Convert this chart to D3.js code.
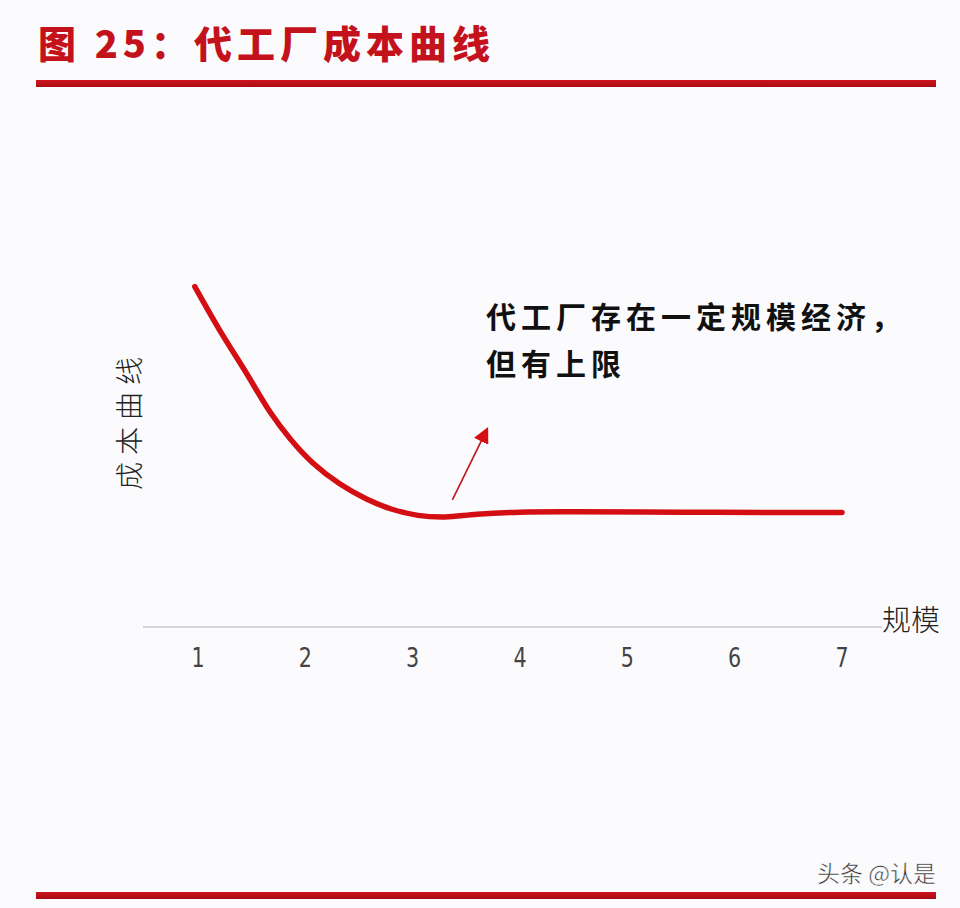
<!DOCTYPE html>
<html><head><meta charset="utf-8">
<script src="https://cdn.jsdelivr.net/npm/d3@7/dist/d3.min.js"></script>
<style>
html,body{margin:0;padding:0;background:#fbfbfd;}
svg{display:block;}
</style></head>
<body>
<script>
// ---- data ----
const title = "图 25：代工厂成本曲线";
const xTicks = [1, 2, 3, 4, 5, 6, 7];
const xLabel = "规模";
const yLabel = "成本曲线";
const annotationLines = ["代工厂存在一定规模经济，", "但有上限"];
const watermark = "头条 @认是";
// cost curve (x = scale, y = cost index 0-100)
const curveX = [0.97, 1.2, 1.45, 1.67, 1.86, 2.07, 2.32, 2.57, 2.8, 3.05, 3.3, 3.6, 4.0, 4.5, 5.5, 6.5, 7.0];
const curveY = [85.1, 74.3, 63.5, 53.8, 47.0, 41.0, 35.8, 32.0, 29.5, 27.9, 27.5, 28.2, 28.7, 28.8, 28.7, 28.6, 28.6];
// annotation arrow (data coords)
const arrowFrom = [3.37, 31.8];
const arrowTo = [3.69, 49.3];

const W = 960, H = 908;
const svg = d3.select("body").append("svg").attr("width", W).attr("height", H);

const red = "#c4121c";
const x = d3.scaleLinear().domain([1, 7]).range([198, 842]);
const y = d3.scaleLinear().domain([0, 100]).range([627, 227]);

// title
svg.append("text").attr("x", 38).attr("y", 58)
  .attr("font-family", "'Noto Sans CJK SC'").attr("font-weight", 900)
  .attr("font-size", 38).attr("letter-spacing", 5).attr("fill", red)
  .text(title);

// header / footer bars
const defs = svg.append("defs");
const grad = defs.append("linearGradient").attr("id", "bar").attr("x1", 0).attr("x2", 0).attr("y1", 0).attr("y2", 1);
grad.append("stop").attr("offset", 0).attr("stop-color", "#d0141e");
grad.append("stop").attr("offset", 1).attr("stop-color", "#a80c14");
svg.append("rect").attr("x", 36).attr("y", 80).attr("width", 900).attr("height", 7).attr("fill", "url(#bar)");
svg.append("rect").attr("x", 36).attr("y", 892).attr("width", 900).attr("height", 7).attr("fill", "url(#bar)");

// x axis
const xAxis = d3.axisBottom(x).tickValues(xTicks).tickSize(0).tickPadding(21).tickFormat(d3.format("d"));
const gx = svg.append("g").attr("transform", `translate(0,${y(0)})`).call(xAxis);
gx.select(".domain").remove();
gx.selectAll("text").attr("font-family", "'DejaVu Sans Condensed','DejaVu Sans'")
  .attr("font-size", 27).attr("font-weight", 300).attr("fill", "#444")
  .attr("transform", "scale(0.85,1)")
  .attr("x", function() { return 0; });
gx.selectAll(".tick").each(function(d) {
  d3.select(this).attr("transform", `translate(${x(d)},0)`);
});
svg.append("line").attr("x1", 143).attr("x2", 882).attr("y1", y(0)).attr("y2", y(0))
  .attr("stroke", "#c8c8cc").attr("stroke-width", 1.5);

// axis labels
svg.append("text").attr("x", 882).attr("y", 631)
  .attr("font-family", "'Noto Sans CJK SC'").attr("font-weight", 300).attr("font-size", 29).attr("fill", "#222")
  .text(xLabel);
svg.append("text").attr("transform", "translate(140,420) rotate(-90)").attr("text-anchor", "middle")
  .attr("font-family", "'Noto Sans CJK SC'").attr("font-weight", 300).attr("font-size", 28)
  .attr("letter-spacing", 7).attr("fill", "#222")
  .text(yLabel);

// curve
const pts = curveX.map((d, i) => [d, curveY[i]]);
const line = d3.line().x(d => x(d[0])).y(d => y(d[1])).curve(d3.curveCatmullRom.alpha(0.5));
svg.append("path").attr("d", line(pts)).attr("fill", "none")
  .attr("stroke", "#d40f14").attr("stroke-width", 5.5).attr("stroke-linecap", "round");

// arrow
defs.append("marker").attr("id", "ah").attr("viewBox", "0 0 10 10")
  .attr("refX", 8).attr("refY", 5).attr("markerWidth", 16).attr("markerHeight", 16)
  .attr("markerUnits", "userSpaceOnUse").attr("orient", "auto")
  .append("path").attr("d", "M0,0 L10,5 L0,10 Z").attr("fill", "#d40f14");
svg.append("line").attr("x1", x(arrowFrom[0])).attr("y1", y(arrowFrom[1]))
  .attr("x2", x(arrowTo[0])).attr("y2", y(arrowTo[1]))
  .attr("stroke", "#c4121c").attr("stroke-width", 1.6).attr("marker-end", "url(#ah)");

// annotation text
annotationLines.forEach((t, i) => {
  svg.append("text").attr("x", 486).attr("y", 328 + i * 47)
    .attr("font-family", "'Noto Sans CJK SC'").attr("font-weight", 700).attr("font-size", 30)
    .attr("letter-spacing", 5).attr("fill", "#111").text(t);
});

// watermark
svg.append("text").attr("x", 936).attr("y", 882).attr("text-anchor", "end")
  .attr("font-family", "'Noto Sans CJK SC'").attr("font-size", 23).attr("fill", "#333")
  .attr("stroke", "#fff").attr("stroke-width", 0.5)
  .text(watermark);
</script>
</body></html>
